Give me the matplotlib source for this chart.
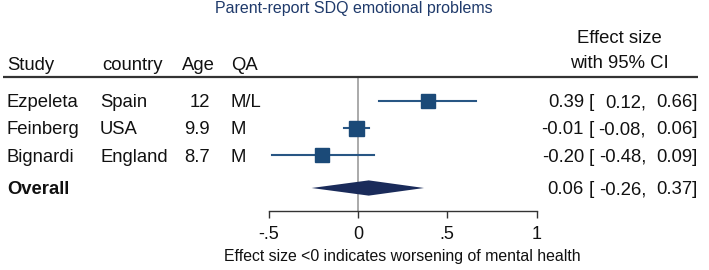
import matplotlib
matplotlib.use("Agg")
import matplotlib.pyplot as plt

plt.rcParams['font.family'] = ['Liberation Sans', 'DejaVu Sans']

# data
studies = ["Ezpeleta", "Feinberg", "Bignardi"]
countries = ["Spain", "USA", "England"]
ages = ["12", "9.9", "8.7"]
qa = ["M/L", "M", "M"]
es = [0.39, -0.01, -0.20]
lo = [0.12, -0.08, -0.48]
hi = [0.66, 0.06, 0.09]
overall = (0.06, -0.26, 0.37)
xticks = [-0.5, 0, 0.5, 1]
xticklabels = ["-.5", "0", ".5", "1"]

W, H = 709, 270
# pixel mapping of the reference: x=0 at 358 px, 178.5 px per unit; rows 27.25 px apart
fig = plt.figure(figsize=(W / 100, H / 100), dpi=100)
ax = fig.add_axes([0, 0, 1, 1])
ax.set_xlim(-358 / 178.5, (W - 358) / 178.5)
ax.set_ylim((H - 100.5) / 27.25, -100.5 / 27.25)


def fx(p):
    return p / W


def ry(p):
    return (p - 100.5) / 27.25


tr = ax.get_yaxis_transform()
fs = 13.3
ink = "#111111"
sq_col = "#1b4a78"
line_col = "#285684"
dia_col = "#1a2b5a"

y_overall = ry(188)
y_axis = ry(211)
y_rule = ry(77)


def txt(x, y, s, ha="left", **kw):
    ax.text(fx(x), y, s, transform=tr, ha=ha, va="center_baseline", fontsize=fs, color=ink, **kw)


def ci_cols(y, e, l, u):
    txt(584, y, f"{e:.2f}", ha="right")
    txt(589, y, "[")
    txt(646, y, f"{l:.2f},", ha="right")
    txt(698, y, f"{u:.2f}]", ha="right")


# header
txt(7, ry(63), "Study")
txt(102, ry(63), "country")
txt(215, ry(63), "Age", ha="right")
txt(231, ry(63), "QA")
ax.text(fx(619), ry(51), "Effect size\nwith 95% CI", transform=tr, ha="center", va="center",
        fontsize=fs, color=ink, linespacing=1.6, multialignment="center")
ax.plot([-1.99, 1.905], [y_rule, y_rule], color="#333333", lw=1.6, solid_capstyle="butt")

ax.text(fx(354), ry(9), "Parent-report SDQ emotional problems", transform=tr, ha="center",
        va="center", fontsize=11.5, color="#1f3a6b")

# zero line
ax.vlines(0, y_rule, y_axis, color="#aaaaaa", lw=1.4, zorder=1)

sizes = [10, 10.8, 10]
for i in range(len(studies)):
    txt(7, i, studies[i])
    txt(100, i, countries[i])
    txt(210, i, ages[i], ha="right")
    txt(231, i, qa[i])
    ax.plot([lo[i], hi[i]], [i, i], color=line_col, lw=1.5, zorder=2)
    ax.plot(es[i], i, marker="s", ms=sizes[i], color=sq_col, mec=sq_col, zorder=3)
    ci_cols(i, es[i], lo[i], hi[i])

# overall diamond
o_es, o_lo, o_hi = overall
h = 0.28
ax.fill([o_lo, o_es, o_hi, o_es], [y_overall, y_overall - h, y_overall, y_overall + h],
        color=dia_col, lw=0, zorder=3)
txt(7, y_overall, "Overall", fontweight="bold")
ci_cols(y_overall, o_es, o_lo, o_hi)

# x axis
for s in ["top", "left", "right"]:
    ax.spines[s].set_visible(False)
ax.spines["bottom"].set_position(("data", y_axis))
ax.spines["bottom"].set_bounds(-0.5, 1)
ax.spines["bottom"].set_color("#333333")
ax.spines["bottom"].set_linewidth(1.0)
ax.set_xticks(xticks, labels=xticklabels)
ax.tick_params(axis="x", direction="out", length=5, width=1.0, color="#333333",
               pad=6, labelsize=13, labelcolor=ink)
ax.set_yticks([])
ax.patch.set_visible(False)

ax.text(fx(402), ry(257), "Effect size <0 indicates worsening of mental health", transform=tr,
        ha="center", va="center", fontsize=11.4, color=ink)

fig.savefig("out.png", dpi=100)
